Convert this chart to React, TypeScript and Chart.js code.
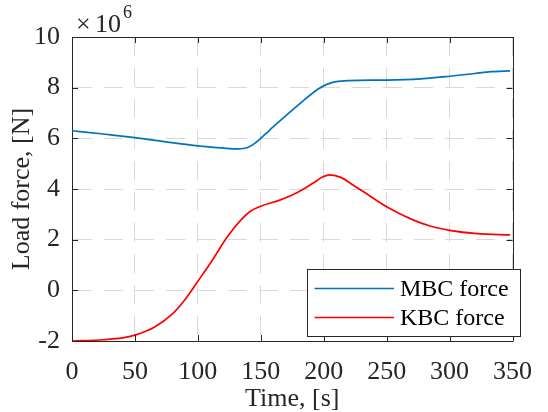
import React, { useEffect, useRef } from "react";
import { Chart, registerables } from "chart.js";

Chart.register(...registerables);

// ---- data (forces in units of 10^6 N) ----
const mbcTime = [0, 25, 50, 75, 100, 115, 125, 132, 136, 140, 145, 150, 155, 160, 170, 183, 195, 203, 210, 220, 250, 275, 300, 320, 333, 348];
const mbcForce = [6.3, 6.17, 6.03, 5.86, 5.7, 5.63, 5.595, 5.585, 5.6, 5.65, 5.79, 6.0, 6.23, 6.46, 6.9, 7.45, 7.93, 8.14, 8.24, 8.28, 8.3, 8.34, 8.45, 8.56, 8.63, 8.66];

const kbcTime = [0, 25, 40, 50, 65, 80, 90, 100, 111, 124, 135, 142, 150, 165, 175, 184, 192, 199, 205, 214, 222, 232, 250, 270, 285, 300, 322, 348];
const kbcForce = [-2.0, -1.95, -1.88, -1.77, -1.47, -0.92, -0.35, 0.36, 1.15, 2.15, 2.82, 3.13, 3.32, 3.56, 3.76, 4.0, 4.25, 4.47, 4.56, 4.45, 4.2, 3.88, 3.3, 2.8, 2.53, 2.37, 2.24, 2.19];

const xTicks = [0, 50, 100, 150, 200, 250, 300, 350];
const yTicks = [-2, 0, 2, 4, 6, 8, 10];
const seriesLabels = ["MBC force", "KBC force"];
const seriesColors = ["#0072BD", "#FF0000"];
const xTitle = "Time, [s]";
const yTitle = "Load force, [N]";
const exponentBase = "10";
const exponentPower = "6";

const FONT = "'Liberation Serif', 'Times New Roman', serif";
const AXIS_COLOR = "#262626";
const GRID_COLOR = "#d9d9d9";

const matlabPlugin = {
  id: "matlabDecor",
  afterDraw(chart: any) {
    const { ctx, chartArea } = chart;
    const { left, right, top, bottom } = chartArea;
    const xs = chart.scales.x;
    const ys = chart.scales.y;
    ctx.save();
    // frame (top + right)
    ctx.strokeStyle = AXIS_COLOR;
    ctx.lineWidth = 1;
    ctx.beginPath();
    ctx.moveTo(Math.round(left) + 0.5, Math.round(top) + 0.5);
    ctx.lineTo(Math.round(right) + 0.5, Math.round(top) + 0.5);
    ctx.lineTo(Math.round(right) + 0.5, Math.round(bottom) + 0.5);
    ctx.stroke();
    // inward ticks
    const tl = 6;
    ctx.beginPath();
    xTicks.forEach((v) => {
      const px = Math.round(xs.getPixelForValue(v)) + 0.5;
      ctx.moveTo(px, bottom);
      ctx.lineTo(px, bottom - tl);
      ctx.moveTo(px, top);
      ctx.lineTo(px, top + tl);
    });
    yTicks.forEach((v) => {
      const py = Math.round(ys.getPixelForValue(v)) + 0.5;
      ctx.moveTo(left, py);
      ctx.lineTo(left + tl, py);
      ctx.moveTo(right, py);
      ctx.lineTo(right - tl, py);
    });
    ctx.stroke();

    // exponent label
    ctx.fillStyle = AXIS_COLOR;
    ctx.textBaseline = "alphabetic";
    ctx.textAlign = "left";
    ctx.font = `26px ${FONT}`;
    ctx.fillText("×", left + 4, top - 5);
    ctx.fillText(exponentBase, left + 23, top - 5);
    ctx.font = `18px ${FONT}`;
    ctx.fillText(exponentPower, left + 51, top - 19);

    // legend
    const lx = 307, ly = 269, lw = 213, lh = 67;
    ctx.fillStyle = "#ffffff";
    ctx.fillRect(lx, ly, lw, lh);
    ctx.strokeStyle = AXIS_COLOR;
    ctx.lineWidth = 1;
    ctx.strokeRect(lx + 0.5, ly + 0.5, lw, lh);
    const rows = [288.5, 317.5];
    chart.data.datasets.forEach((ds: any, i: number) => {
      ctx.strokeStyle = ds.borderColor;
      ctx.lineWidth = ds.borderWidth;
      ctx.beginPath();
      ctx.moveTo(314.5, rows[i]);
      ctx.lineTo(394, rows[i]);
      ctx.stroke();
      ctx.fillStyle = "#000000";
      ctx.font = `24px ${FONT}`;
      ctx.textBaseline = "alphabetic";
      ctx.fillText(ds.label, 400, rows[i] + 7.5);
    });
    ctx.restore();
  },
};

export default function App() {
  const canvasRef = useRef<HTMLCanvasElement | null>(null);

  useEffect(() => {
    const canvas = canvasRef.current;
    if (!canvas) return;
    const chart = new Chart(canvas, {
      type: "line",
      data: {
        datasets: [
          {
            label: seriesLabels[0],
            data: mbcTime.map((t, i) => ({ x: t, y: mbcForce[i] })),
            borderColor: seriesColors[0],
            backgroundColor: seriesColors[0],
            borderWidth: 1.7,
            pointRadius: 0,
            cubicInterpolationMode: "monotone",
            fill: false,
          },
          {
            label: seriesLabels[1],
            data: kbcTime.map((t, i) => ({ x: t, y: kbcForce[i] })),
            borderColor: seriesColors[1],
            backgroundColor: seriesColors[1],
            borderWidth: 1.7,
            pointRadius: 0,
            cubicInterpolationMode: "monotone",
            fill: false,
          },
        ],
      },
      options: {
        animation: false,
        responsive: false,
        devicePixelRatio: 1,
        layout: { padding: { top: 37, right: 22, left: 0, bottom: 0 } },
        plugins: { legend: { display: false }, tooltip: { enabled: false } },
        scales: {
          x: {
            type: "linear",
            min: 0,
            max: 350,
            afterBuildTicks: (s: any) => {
              s.ticks = xTicks.map((v) => ({ value: v }));
            },
            afterFit: (s: any) => {
              s.height = 71;
            },
            ticks: {
              color: AXIS_COLOR,
              font: { family: FONT, size: 26 },
              padding: 16,
              maxRotation: 0,
              autoSkip: false,
            },
            grid: { color: GRID_COLOR, drawTicks: false, lineWidth: 1 },
            border: { display: true, color: AXIS_COLOR, width: 1, dash: [19, 12] },
            title: {
              display: true,
              text: xTitle,
              color: AXIS_COLOR,
              font: { family: FONT, size: 26, lineHeight: 1 },
              padding: { top: 0, bottom: 0 },
            },
          },
          y: {
            type: "linear",
            min: -2,
            max: 10,
            afterBuildTicks: (s: any) => {
              s.ticks = yTicks.map((v) => ({ value: v }));
            },
            afterFit: (s: any) => {
              s.width = 72;
            },
            ticks: {
              color: AXIS_COLOR,
              font: { family: FONT, size: 26 },
              padding: 12,
              autoSkip: false,
              callback: (v: any) => String(v),
            },
            grid: { color: GRID_COLOR, drawTicks: false, lineWidth: 1 },
            border: { display: true, color: AXIS_COLOR, width: 1, dash: [19, 12] },
            title: {
              display: true,
              text: yTitle,
              color: AXIS_COLOR,
              font: { family: FONT, size: 26, lineHeight: 1 },
              padding: { top: 9, bottom: 0 },
            },
          },
        },
      },
      plugins: [matlabPlugin],
    } as any);
    return () => chart.destroy();
  }, []);

  return (
    <div style={{ position: "fixed", left: 0, top: 0, width: 548, height: 412, background: "#ffffff" }}>
      <canvas ref={canvasRef} width={548} height={412} style={{ width: 548, height: 412, display: "block" }} />
    </div>
  );
}
